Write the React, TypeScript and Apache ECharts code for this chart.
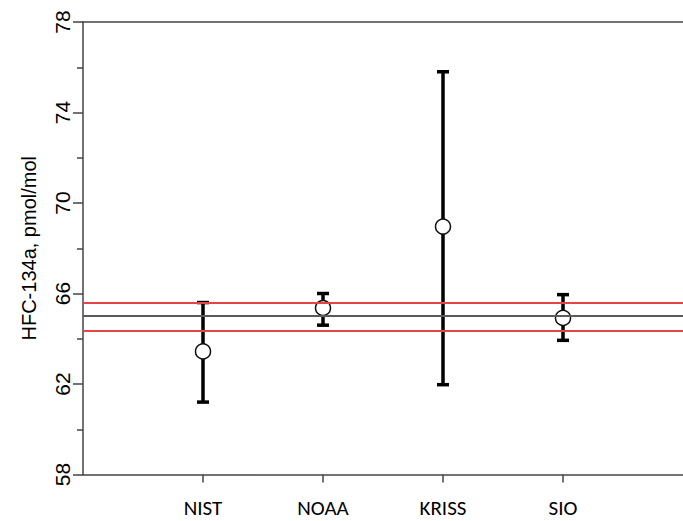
import React, { useEffect, useRef } from "react";
import * as echarts from "echarts";

const categories = ["NIST", "NOAA", "KRISS", "SIO"];
const means = [63.44, 65.36, 68.96, 64.92];
const upperErr = [65.6, 66.0, 75.8, 65.95];
const lowerErr = [61.2, 64.6, 61.97, 63.93];
const refValue = 65.0;
const refUpper = 65.6;
const refLower = 64.36;
const yTicks = { min: 58, max: 78, interval: 4 };
const yTitle = "HFC-134a, pmol/mol";

export default function App() {
  const ref = useRef<HTMLDivElement>(null);
  useEffect(() => {
    if (!ref.current) return;
    const chart = echarts.init(ref.current, null, { renderer: "svg" });
    const axisColor = "#444";
    const line = { show: true, lineStyle: { color: axisColor, width: 1.5 } };
    chart.setOption({
      animation: false,
      backgroundColor: "#fff",
      grid: {
        left: 83,
        top: 22,
        width: 606,
        bottom: 46.5,
        show: false,
      },
      xAxis: [
        {
          type: "value",
          min: 0,
          max: 5,
          interval: 1,
          splitLine: { show: false },
          axisLine: line,
          axisTick: {
            show: true,
            customValues: [1, 2, 3, 4],
            length: 8,
            lineStyle: { color: axisColor, width: 1.5 },
          },
          axisLabel: {
            customValues: [1, 2, 3, 4],
            formatter: (v: number) => categories[Math.round(v) - 1] ?? "",
            fontFamily: "Carlito, Lato, sans-serif",
            fontSize: 21,
            color: "#000",
            margin: 23,
          },
        },
        {
          type: "value",
          position: "top",
          min: 0,
          max: 5,
          splitLine: { show: false },
          axisLine: line,
          axisTick: { show: false },
          axisLabel: { show: false },
        },
      ],
      yAxis: {
        type: "value",
        min: yTicks.min,
        max: yTicks.max,
        interval: yTicks.interval,
        splitLine: { show: false },
        minorSplitLine: { show: false },
        axisLine: line,
        axisTick: { show: true, length: 10, lineStyle: { color: axisColor, width: 1.5 } },
        minorTick: { show: true, splitNumber: 2, length: 6, lineStyle: { color: axisColor, width: 1.5 } },
        axisLabel: {
          rotate: 90,
          fontFamily: "Liberation Sans, Arial, sans-serif",
          fontSize: 21,
          color: "#000",
          margin: 10,
        },
        name: yTitle,
        nameLocation: "middle",
        nameRotate: 90,
        nameGap: 44,
        nameTextStyle: {
          fontFamily: "Liberation Sans, Arial, sans-serif",
          fontSize: 20,
          color: "#000",
        },
      },
      series: [
        {
          type: "scatter",
          data: [],
          z: 1,
          markLine: {
            silent: true,
            symbol: ["none", "none"],
            label: { show: false },
            data: [
              { yAxis: refUpper, lineStyle: { color: "#e64545", width: 2, type: "solid" } },
              { yAxis: refValue, lineStyle: { color: "#5a5a5a", width: 2, type: "solid" } },
              { yAxis: refLower, lineStyle: { color: "#e64545", width: 2, type: "solid" } },
            ],
          },
        },
        {
          type: "custom",
          z: 3,
          data: categories.map((_, i) => [i + 1, lowerErr[i], upperErr[i]]),
          encode: { x: 0, y: [1, 2] },
          renderItem: (params: any, api: any) => {
            const x = api.value(0);
            const lo = api.coord([x, api.value(1)]);
            const hi = api.coord([x, api.value(2)]);
            const hw = 6;
            const style = { stroke: "#000", lineWidth: 3.5 };
            return {
              type: "group",
              children: [
                { type: "line", shape: { x1: lo[0], y1: lo[1], x2: hi[0], y2: hi[1] }, style },
                { type: "line", shape: { x1: hi[0] - hw, y1: hi[1], x2: hi[0] + hw, y2: hi[1] }, style },
                { type: "line", shape: { x1: lo[0] - hw, y1: lo[1], x2: lo[0] + hw, y2: lo[1] }, style },
              ],
            };
          },
        },
        {
          type: "scatter",
          z: 4,
          symbol: "circle",
          symbolSize: 15,
          data: means.map((m, i) => [i + 1, m]),
          itemStyle: { color: "#fff", borderColor: "#111", borderWidth: 1.5, opacity: 1 },
        },
      ],
    });
    return () => chart.dispose();
  }, []);
  return (
    <div
      ref={ref}
      style={{ position: "fixed", left: 0, top: 0, width: 683, height: 521 }}
    />
  );
}
